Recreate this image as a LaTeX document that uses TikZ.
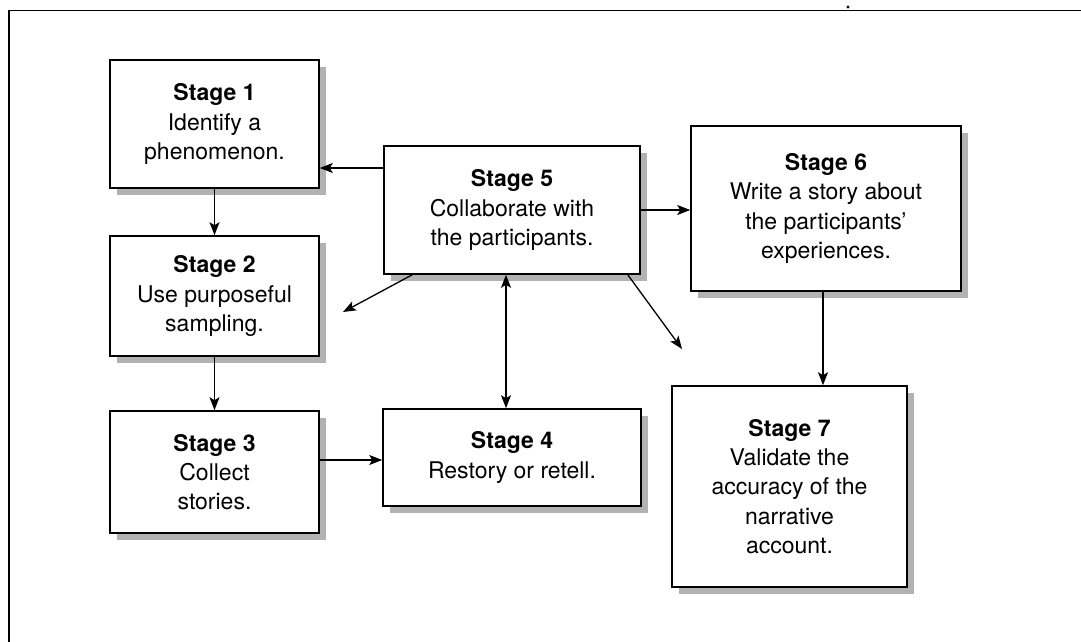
\documentclass[tikz,border=0pt]{standalone}
\usepackage{fontspec}
\setmainfont{TeX Gyre Heros}
\usetikzlibrary{arrows.meta,shadows,calc}
\begin{document}
\begin{tikzpicture}[x=1pt,y=-1pt,
  stagebox/.style={draw=black, line width=1.6pt, fill=white, align=center,
    inner sep=0pt, font=\fontsize{23}{29.3}\selectfont,
    drop shadow={shadow xshift=7pt, shadow yshift=-7pt, fill=black!30, opacity=1}},
  arr/.style={line width=1.3pt, -{Stealth[length=13pt,width=10pt,inset=3pt]}},
  dblarr/.style={line width=1.3pt, {Stealth[length=13pt,width=10pt,inset=3pt]}-{Stealth[length=13pt,width=10pt,inset=3pt]}}]
  \useasboundingbox (0,0) rectangle (1081,642);
  % page frame (top and left edges)
  \draw[line width=1.3pt] (9,642) -- (9,10.5) -- (1081,10.5);
  \fill (848,7) circle (1.6);

  % stages
  \node[stagebox, minimum width=209pt, minimum height=128pt] (s1) at (214.5,124)
    {\textbf{Stage 1}\\Identify a\\phenomenon.};
  \node[stagebox, minimum width=209pt, minimum height=120pt] (s2) at (214.5,296)
    {\textbf{Stage 2}\\Use purposeful\\sampling.};
  \node[stagebox, minimum width=209pt, minimum height=122pt] (s3) at (214.5,472)
    {\textbf{Stage 3}\\Collect\\stories.};
  \node[stagebox, minimum width=258pt, minimum height=97pt] (s4) at (512,457.5)
    {\textbf{Stage 4}\\Restory or retell.};
  \node[stagebox, minimum width=256pt, minimum height=128pt] (s5) at (512,210)
    {\textbf{Stage 5}\\Collaborate with\\the participants.};
  \node[stagebox, minimum width=270pt, minimum height=165pt] (s6) at (826,208.5)
    {\textbf{Stage 6}\\Write a story about\\the participants’\\experiences.};
  \node[stagebox, minimum width=235pt, minimum height=201pt] (s7) at (789.5,486.5)
    {\textbf{Stage 7}\\Validate the\\accuracy of the\\narrative\\account.};

  % free ends of the two open arrows
  \coordinate (freeL) at (343,312);
  \coordinate (freeR) at (682,349);

  % connectors
  \draw[arr] (s1.south) -- (s2.north);
  \draw[arr] (s2.south) -- (s3.north);
  \draw[arr] ([yshift=12pt]s3.east) -- ([yshift=12pt]s3.east -| s4.west);
  \draw[arr] ([yshift=42pt]s5.west) -- ([yshift=42pt]s5.west -| s1.east);
  \draw[arr] (s5.east) -- (s5.east -| s6.west);
  \draw[dblarr] ([xshift=-6pt]s5.south) -- ([xshift=-6pt]s5.south |- s4.north);
  \draw[arr] ([xshift=-3pt]s6.south) -- ([xshift=-3pt]s6.south |- s7.north);
  \draw[arr] ($(s5.south west)+(29,0)$) -- (freeL);
  \draw[arr] ($(s5.south east)+(-13,0)$) -- (freeR);
\end{tikzpicture}
\end{document}
